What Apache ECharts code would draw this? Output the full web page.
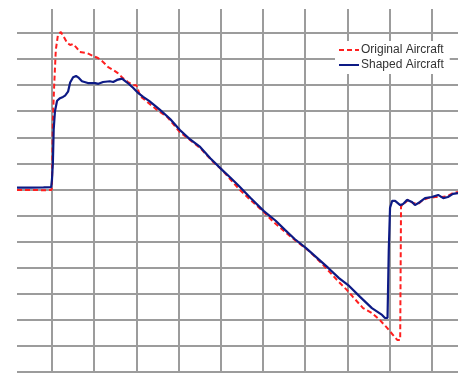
<!DOCTYPE html>
<html>
<head>
<meta charset="utf-8">
<script src="https://cdn.jsdelivr.net/npm/echarts@6/dist/echarts.min.js"></script>
<style>html,body{margin:0;padding:0;background:#fff}#c{width:458px;height:373px}</style>
</head>
<body>
<div id="c"></div>
<script>
// x in vertical-grid units, y in horizontal-grid units
const seriesNames = ['Original Aircraft', 'Shaped Aircraft'];
const originalAircraft = [
  [-0.83,6.98],[-0.5,6.98],[-0.2,6.97],[-0.01,6.98],[0.0,7.2],[0.02,9.66],[0.05,10.93],[0.09,12.35],[0.14,12.92],
  [0.21,13.04],[0.24,13.07],[0.28,12.85],[0.36,12.62],[0.43,12.54],[0.5,12.58],[0.59,12.42],[0.66,12.27],
  [0.83,12.23],[0.97,12.12],[1.09,12.04],[1.21,11.89],[1.33,11.69],[1.45,11.58],[1.56,11.46],[1.68,11.27],
  [1.8,11.12],[1.92,11.0],[2.0,11.0],[2.09,10.58],[2.3,10.3],[2.49,10.05],[2.73,9.78],[3.03,9.2],[3.27,8.9],
  [3.51,8.59],[3.82,8.05],[4.03,7.75],[4.23,7.38],[4.43,7.02],[4.7,6.6],[5.02,6.13],[5.25,5.75],[5.52,5.37],
  [5.8,5.0],[6.09,4.64],[6.4,4.15],[6.75,3.53],[6.99,3.14],[7.13,2.88],[7.37,2.45],[7.58,2.26],[7.77,1.99],
  [7.94,1.69],[8.18,1.23],[8.25,1.23],[8.27,6.36],[8.36,6.48],[8.44,6.6],[8.55,6.48],[8.67,6.44],[8.79,6.6],
  [8.91,6.67],[9.08,6.71],[9.24,6.71],[9.38,6.75],[9.5,6.86],[9.62,6.9]
];
const shapedAircraft = [
  [-0.83,7.07],[-0.5,7.07],[-0.2,7.08],[-0.02,7.09],[0.0,7.4],[0.02,8.0],[0.04,9.3],[0.07,10.0],[0.12,10.4],
  [0.19,10.5],[0.26,10.55],[0.31,10.6],[0.38,10.75],[0.43,11.1],[0.5,11.3],[0.57,11.35],[0.62,11.3],[0.71,11.15],
  [0.85,11.08],[1.02,11.08],[1.1,11.05],[1.21,11.12],[1.37,11.15],[1.45,11.12],[1.54,11.2],[1.66,11.25],
  [1.78,11.1],[1.92,10.9],[2.04,10.7],[2.16,10.55],[2.3,10.4],[2.56,10.05],[2.8,9.7],[3.03,9.28],[3.25,8.95],
  [3.51,8.63],[3.75,8.2],[4.03,7.75],[4.23,7.45],[4.43,7.13],[4.7,6.68],[5.02,6.17],[5.3,5.8],[5.52,5.45],
  [5.75,5.1],[6.02,4.75],[6.3,4.35],[6.54,4.0],[6.8,3.6],[7.04,3.3],[7.3,2.88],[7.58,2.45],[7.82,2.19],
  [7.89,2.07],[7.95,2.07],[7.98,4.7],[8.01,6.3],[8.06,6.56],[8.13,6.56],[8.25,6.4],[8.32,6.44],[8.41,6.6],
  [8.53,6.52],[8.6,6.4],[8.72,6.52],[8.84,6.67],[9.0,6.71],[9.15,6.79],[9.27,6.67],[9.38,6.71],[9.5,6.83],[9.62,6.86]
];
const xRange = [-1, 9.62];
const yRange = [0, 13.92];

const gridLine = { show: true, showMinLine: false, showMaxLine: false, lineStyle: { color: '#9c9c9c', width: 2 } };
const chart = echarts.init(document.getElementById('c'), null, { renderer: 'canvas' });
chart.setOption({
  animation: false,
  backgroundColor: '#fff',
  grid: { left: 9.8, right: 0, top: 9, bottom: 1, containLabel: false },
  xAxis: {
    type: 'value', min: xRange[0], max: xRange[1], interval: 1,
    axisLine: { show: false }, axisTick: { show: false }, axisLabel: { show: false },
    splitLine: gridLine
  },
  yAxis: {
    type: 'value', min: yRange[0], max: yRange[1], interval: 1,
    axisLine: { show: false }, axisTick: { show: false }, axisLabel: { show: false },
    splitLine: Object.assign({}, gridLine, { showMinLine: true })
  },
  graphic: [
    { type: 'rect', left: 0, top: 0, z: 100, shape: { width: 17, height: 373 }, style: { fill: '#fff' } }
  ],
  legend: {
    orient: 'vertical', left: 335, top: 41, padding: [3, 6, 3, 3],
    backgroundColor: '#fff', itemWidth: 20, itemHeight: 12, itemGap: 3,
    itemStyle: { opacity: 0 },
    textStyle: { fontFamily: 'Liberation Sans, Arial, sans-serif', fontSize: 12, color: '#333', padding: [0, 0, 0, -3] },
    data: seriesNames
  },
  series: [
    { name: seriesNames[0], type: 'line', data: originalAircraft, symbol: 'none', z: 3,
      lineStyle: { color: '#ff1f1f', width: 2, type: [5, 3] }, itemStyle: { color: '#ff1f1f' } },
    { name: seriesNames[1], type: 'line', data: shapedAircraft, symbol: 'none', z: 4,
      lineStyle: { color: '#0d1a85', width: 2.2 }, itemStyle: { color: '#0d1a85' } }
  ]
});
</script>
</body>
</html>
